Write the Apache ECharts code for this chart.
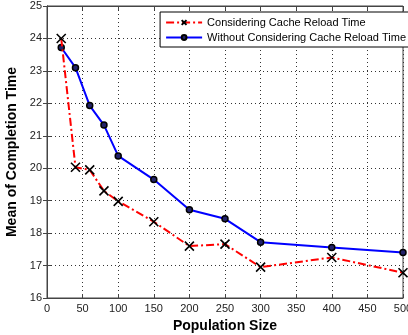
<!DOCTYPE html>
<html>
<head>
<meta charset="utf-8">
<script src="https://cdn.jsdelivr.net/npm/echarts@6/dist/echarts.min.js"></script>
<style>
  html, body { margin: 0; padding: 0; background: #fff; }
  #chart { width: 408px; height: 335px; }
</style>
</head>
<body>
<div id="chart"></div>
<script>
// population sizes
var popSizes = [20, 40, 60, 80, 100, 150, 200, 250, 300, 400, 500];
// mean completion time, with cache reload time
var withReload = [24.0, 20.03, 19.95, 19.3, 18.98, 18.35, 17.6, 17.66, 16.95, 17.25, 16.78];
// mean completion time, without cache reload time
var withoutReload = [23.72, 23.1, 21.93, 21.33, 20.38, 19.65, 18.72, 18.44, 17.72, 17.56, 17.4];
var seriesNames = ['Considering Cache Reload Time', 'Without Considering Cache Reload Time'];

function pairs(xs, ys) {
    var out = [];
    for (var i = 0; i < xs.length; i++) out.push([xs[i], ys[i]]);
    return out;
}

var font = 'Liberation Sans, Arial, sans-serif';
var xMark = 'path://M0,0L10,10M10,0L0,10';
var axisGray = '#444';

var myChart = echarts.init(document.getElementById('chart'));

var option = {
    animation: false,
    textStyle: {fontFamily: font},
    grid: {left: 47, top: 6, right: 5, bottom: 37, show: true, borderColor: axisGray, borderWidth: 1,
           outerBoundsMode: 'none'},
    legend: {
        data: seriesNames,
        orient: 'vertical',
        right: -2,
        top: 12,
        itemGap: 4,
        itemWidth: 36,
        itemHeight: 6,
        backgroundColor: '#fff',
        borderColor: '#000',
        borderWidth: 1,
        padding: [5, 4, 4, 5],
        textStyle: {fontSize: 11, color: '#000', fontFamily: font}
    },
    xAxis: [{
        type: 'value', min: 0, max: 500, interval: 50,
        name: 'Population Size', nameLocation: 'middle', nameGap: 20,
        nameTextStyle: {fontSize: 14, fontWeight: 'bold', color: '#000'},
        axisLine: {lineStyle: {color: axisGray}},
        axisTick: {inside: true, length: 4, lineStyle: {color: axisGray}},
        axisLabel: {fontSize: 11, color: '#222', margin: 5},
        splitLine: {show: true, lineStyle: {color: '#333', type: [1, 3], width: 1}}
    }, {
        type: 'value', min: 0, max: 500, interval: 50, position: 'top',
        axisLine: {show: true, lineStyle: {color: axisGray}},
        axisTick: {inside: true, length: 4, lineStyle: {color: axisGray}},
        axisLabel: {show: false}, splitLine: {show: false}
    }],
    yAxis: [{
        type: 'value', min: 16, max: 25, interval: 1,
        name: 'Mean of Completion Time', nameLocation: 'middle', nameGap: 20,
        nameTextStyle: {fontSize: 14, fontWeight: 'bold', color: '#000'},
        axisLine: {show: true, lineStyle: {color: axisGray}},
        axisTick: {show: true, inside: true, length: 4, lineStyle: {color: axisGray}},
        axisLabel: {fontSize: 11, color: '#222', margin: 5},
        splitLine: {show: true, lineStyle: {color: '#333', type: [1, 3], width: 1}}
    }, {
        type: 'value', min: 16, max: 25, interval: 1, position: 'right',
        axisLine: {show: true, lineStyle: {color: axisGray}},
        axisTick: {show: true, inside: true, length: 4, lineStyle: {color: axisGray}},
        axisLabel: {show: false}, splitLine: {show: false}
    }],
    series: [
        {
            name: seriesNames[0],
            type: 'line',
            data: pairs(popSizes, withReload),
            symbol: xMark,
            symbolSize: 9,
            lineStyle: {color: '#ff0000', width: 2, type: [8, 3, 2, 3]},
            itemStyle: {color: '#ff0000', borderColor: '#000', borderWidth: 1.6},
            z: 3
        },
        {
            name: seriesNames[1],
            type: 'line',
            data: pairs(popSizes, withoutReload),
            symbol: 'circle',
            symbolSize: 6,
            lineStyle: {color: '#0000ff', width: 2},
            itemStyle: {color: '#22226a', borderColor: '#000', borderWidth: 1.5},
            z: 2
        }
    ]
};

myChart.setOption(option);
</script>
</body>
</html>
